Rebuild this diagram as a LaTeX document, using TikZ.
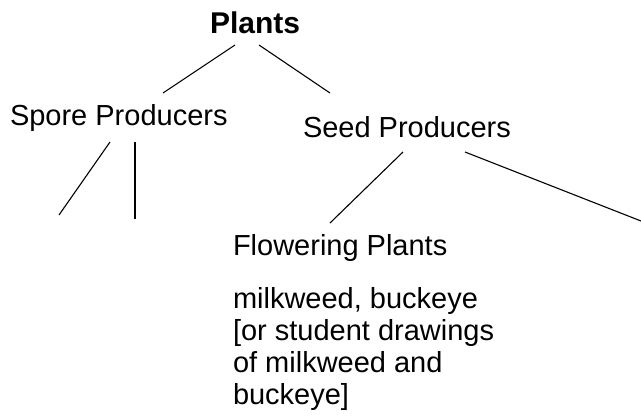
\documentclass[tikz,border=0pt]{standalone}
\usepackage{fontspec}
\setmainfont{Liberation Sans}
\begin{document}
\begin{tikzpicture}[x=1pt,y=-1pt,
  lbl/.style={inner sep=0pt, outer sep=0pt, anchor=base west, font=\fontsize{29}{32.3}\selectfont},
  ttl/.style={inner sep=0pt, outer sep=0pt, anchor=base west, font=\fontsize{30}{34}\selectfont\bfseries},
  link/.style={line width=1.1pt, black}]
\useasboundingbox (0,0) rectangle (641,418);
\node[ttl] (plants) at (210,33) {Plants};
\node[lbl] (spore) at (10,125) {Spore Producers};
\node[lbl] (seed) at (303,137) {Seed Producers};
\node[lbl] (flower) at (233,255) {Flowering Plants};
\node[lbl, anchor=north west, align=left] (examples) at (233,287) {milkweed, buckeye\\ {[}or student drawings\\ of milkweed and\\ buckeye{]}};
\coordinate (s1) at (59,215);
\coordinate (s2) at (135,219);
\coordinate (g2) at (641,221);
\draw[link] ([xshift=25pt,yshift=-12pt]plants.base west) -- ([xshift=153pt,yshift=32pt]spore.base west);
\draw[link] ([xshift=49pt,yshift=-12pt]plants.base west) -- ([xshift=27pt,yshift=44pt]seed.base west);
\draw[link] ([xshift=100pt,yshift=-17pt]spore.base west) -- (s1);
\draw[link] ([xshift=125pt,yshift=-17pt]spore.base west) -- (s2);
\draw[link] ([xshift=100pt,yshift=-15pt]seed.base west) -- ([xshift=97pt,yshift=32pt]flower.base west);
\draw[link] ([xshift=162pt,yshift=-15pt]seed.base west) -- (g2);
\end{tikzpicture}
\end{document}
